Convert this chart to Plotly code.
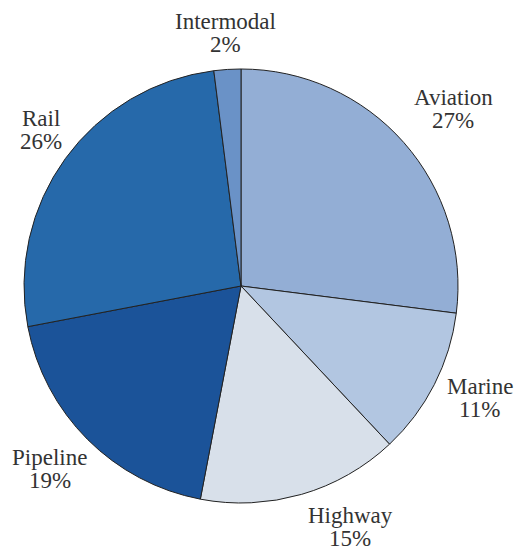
import math
import plotly.graph_objects as go

labels = ["Aviation", "Marine", "Highway", "Pipeline", "Rail", "Intermodal"]
values = [27, 11, 15, 19, 26, 2]
colors = ["#93aed5", "#b2c6e1", "#d8e0ea", "#1b5399", "#2669aa", "#6a92c7"]

# small per-label placement nudges (pixels, +x right, +y down)
label_nudge = {
    "Aviation": (7, 4),
    "Marine": (2, -9),
    "Highway": (37, -8),
    "Pipeline": (2, -10),
    "Rail": (8, -5),
    "Intermodal": (0, 0),
}

W, H = 516, 552
ML, MR, MT, MB = 24, 58, 69, 49
PW, PH = W - ML - MR, H - MT - MB
R = min(PW, PH) / 2
FS = 23
LINE = 23
GAP = 10

fig = go.Figure(go.Pie(
    labels=labels,
    values=values,
    sort=False,
    direction="clockwise",
    rotation=0,
    marker=dict(colors=colors, line=dict(color="#222222", width=1)),
    textinfo="none",
    showlegend=False,
    hoverinfo="label+percent",
))

total = sum(values)
cum = 0
annotations = []
for lab, v in zip(labels, values):
    pct = f"{round(100 * v / total)}%"
    mid = 2 * math.pi * (cum + v / 2) / total
    cum += v
    sx, cy = math.sin(mid), -math.cos(mid)
    wtxt = 0.46 * FS * max(len(lab), len(pct))
    half = (wtxt / 2) * abs(sx) + LINE * abs(cy)
    dist = R + GAP + half
    nx, ny = label_nudge[lab]
    dx, dy = dist * sx + nx, dist * cy + ny
    xp = 0.5 + dx / PW
    yp = 0.5 - dy / PH
    for txt, shift in ((lab, LINE / 2), (pct, -LINE / 2)):
        annotations.append(dict(
            x=xp, y=yp, xref="paper", yref="paper", text=txt,
            showarrow=False, xanchor="center", yanchor="middle",
            yshift=shift,
            font=dict(family="Liberation Serif", size=FS, color="#333333"),
        ))

fig.update_layout(
    width=W, height=H,
    margin=dict(l=ML, r=MR, t=MT, b=MB),
    paper_bgcolor="white",
    plot_bgcolor="white",
    annotations=annotations,
)

fig.write_html(
    "out.html",
    config={"displayModeBar": False},
    post_script="document.body.style.margin='0';document.body.style.overflow='hidden';",
)
